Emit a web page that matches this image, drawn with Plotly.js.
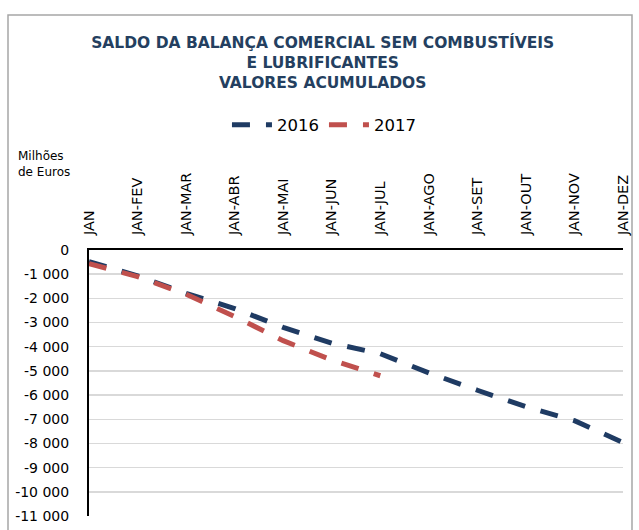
<!DOCTYPE html>
<html>
<head>
<meta charset="utf-8">
<script src="https://cdn.plot.ly/plotly-3.0.1.min.js"></script>
<style>
html,body{margin:0;padding:0;background:#fff;}
#chart{width:639px;height:530px;}
</style>
</head>
<body>
<div id="chart"></div>
<script>
const categories = ["JAN","JAN-FEV","JAN-MAR","JAN-ABR","JAN-MAI","JAN-JUN","JAN-JUL","JAN-AGO","JAN-SET","JAN-OUT","JAN-NOV","JAN-DEZ"];
const values2016 = [-480, -1070, -1790, -2420, -3200, -3850, -4290, -5080, -5800, -6480, -7060, -7960];
const values2017 = [-560, -1100, -1830, -2750, -3750, -4550, -5200];
const yTickVals = [0, -1000, -2000, -3000, -4000, -5000, -6000, -7000, -8000, -9000, -10000, -11000];
const yTickText = ["0", "-1 000", "-2 000", "-3 000", "-4 000", "-5 000", "-6 000", "-7 000", "-8 000", "-9 000", "-10 000", "-11 000"];

const traces = [
  {x: categories, y: values2016, name: "2016", type: "scatter", mode: "lines",
   line: {color: "#1f3b63", width: 5, dash: "18px,16px"}},
  {x: categories.slice(0, values2017.length), y: values2017, name: "2017", type: "scatter", mode: "lines",
   line: {color: "#c0504d", width: 5, dash: "18px,16px"}}
];

const L = 89, R = 623, T = 250, B = 516, W = 639, H = 530;
const pw = R - L, ph = B - T;
function px(x){ return (x - L) / pw; }
function py(y){ return (B - y) / ph; }

const layout = {
  width: W, height: H,
  margin: {l: L, r: W - R, t: T, b: H - B, pad: 0},
  paper_bgcolor: "#ffffff", plot_bgcolor: "#ffffff",
  font: {family: "DejaVu Sans, sans-serif", color: "#000"},
  title: {
    text: "SALDO DA BALANÇA COMERCIAL SEM COMBUSTÍVEIS<br>E LUBRIFICANTES<br>VALORES ACUMULADOS",
    font: {family: "DejaVu Sans, sans-serif", size: 15.5, color: "#243f60", weight: "bold"},
    x: 0.505, xanchor: "center", y: 1 - 48 / H, yanchor: "middle"
  },
  showlegend: true,
  legend: {orientation: "h", x: 0.44, xanchor: "center", y: py(125), yanchor: "middle",
           font: {size: 16.5, color: "#000"}, itemwidth: 40, tracegroupgap: 0, bgcolor: "rgba(0,0,0,0)"},
  xaxis: {
    type: "category", side: "top", range: [0, categories.length - 1],
    showgrid: false, zeroline: false,
    showline: true, linecolor: "#000", linewidth: 2,
    tickangle: -90, tickfont: {size: 14.5, color: "#000"},
    ticks: "", ticklabelstandoff: 10, fixedrange: true
  },
  yaxis: {
    range: [-11000, 0], tickvals: yTickVals, ticktext: yTickText,
    showgrid: true, gridcolor: "#d9d9d9", gridwidth: 1.5,
    zeroline: false, showline: true, linecolor: "#000", linewidth: 2,
    tickfont: {size: 14, color: "#000"}, ticks: "", ticklabelstandoff: 15, fixedrange: true
  },
  annotations: [
    {text: "Milhões<br>de Euros", xref: "paper", yref: "paper", x: px(16), y: py(164),
     xanchor: "left", yanchor: "middle", align: "left", showarrow: false,
     font: {size: 12, color: "#000"}}
  ],
  shapes: [
    {type: "rect", xref: "paper", yref: "paper", x0: px(8), x1: px(632), y0: py(540), y1: py(15),
     line: {color: "#a6a6a6", width: 1.5}, fillcolor: "rgba(0,0,0,0)", layer: "below"}
  ]
};

Plotly.newPlot("chart", traces, layout, {displayModeBar: false, staticPlot: true});
</script>
</body>
</html>
